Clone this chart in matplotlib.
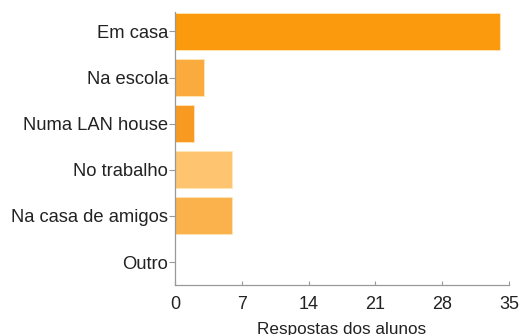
import matplotlib
matplotlib.use("Agg")
import matplotlib.pyplot as plt

# respostas por local de acesso
locais = ["Em casa", "Na escola", "Numa LAN house", "No trabalho",
          "Na casa de amigos", "Outro"]
respostas = [34, 3, 2, 6, 6, 0]
cores = ["#FA9A0C", "#FBAA3E", "#F89A22", "#FEC470", "#FBB24C", "#FBB24C"]
ticks_x = [0, 7, 14, 21, 28, 35]

plt.rcParams["font.family"] = ["Liberation Sans", "DejaVu Sans"]

fig = plt.figure(figsize=(5.2, 3.35), dpi=100)
ax = fig.add_axes([0.3365, 0.149, 0.6425, 0.815])

pos = list(range(len(locais)))
ax.barh(pos, respostas, height=0.8, color=cores, edgecolor="#FFE7B8",
        linewidth=0.6)

ax.set_ylim(5.5, -0.42)
ax.set_xlim(0, 35)
ax.set_yticks(pos)
ax.set_yticklabels(locais, fontsize=13.2, color="#222222")
ax.set_xticks(ticks_x)
ax.set_xticklabels([str(t) for t in ticks_x], fontsize=13, color="#222222")
ax.tick_params(axis="y", direction="out", length=4, color="#999999", pad=1)
ax.tick_params(axis="x", direction="in", length=3, color="#999999", pad=8)

for s in ["top", "right"]:
    ax.spines[s].set_visible(False)
for s in ["left", "bottom"]:
    ax.spines[s].set_color("#999999")
    ax.spines[s].set_linewidth(0.9)

ax.set_xlabel("Respostas dos alunos", fontsize=12.3, color="#222222", labelpad=6)

fig.savefig("out.png", dpi=100)
